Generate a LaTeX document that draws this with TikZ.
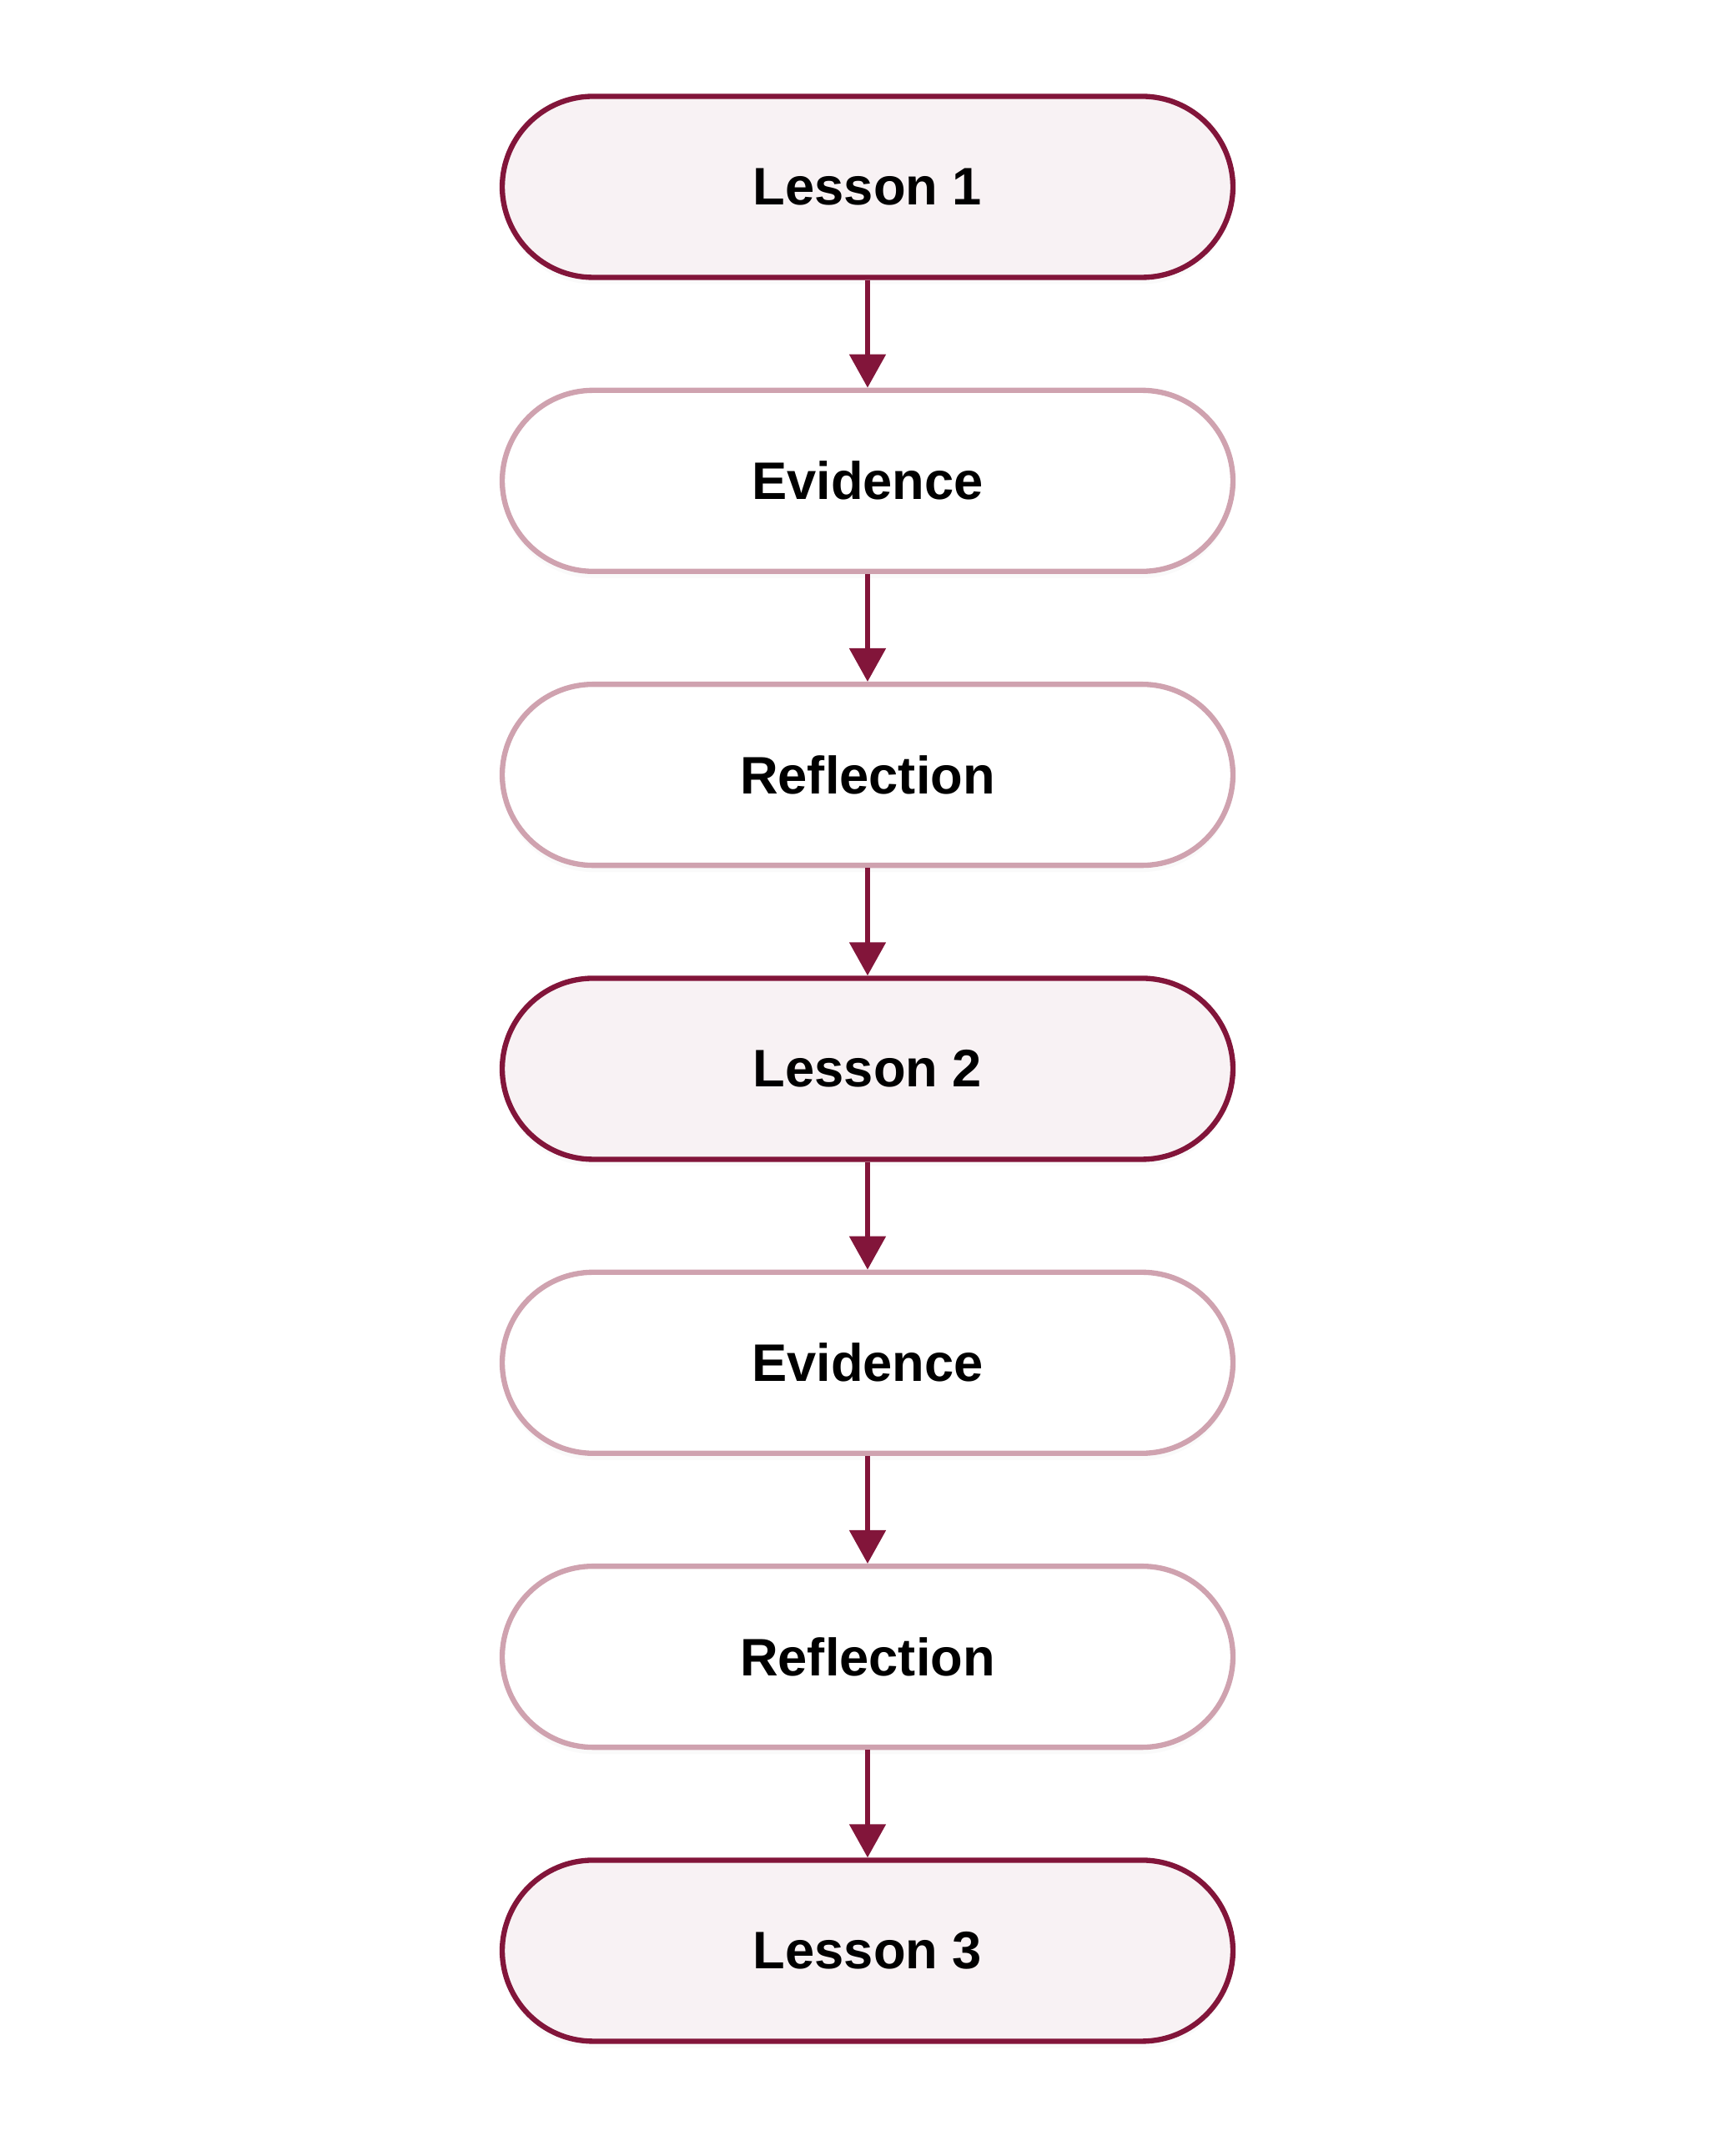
\documentclass[tikz,border=0pt]{standalone}
\usepackage{fontspec}
\setmainfont{Liberation Sans}
\usetikzlibrary{positioning}
\usetikzlibrary{arrows.meta}
\usetikzlibrary{shadows}
\definecolor{lessonred}{HTML}{82153A}
\definecolor{lessonfill}{HTML}{F8F2F4}
\definecolor{steprose}{HTML}{CFA2AF}

\begin{document}
\begin{tikzpicture}[node distance=1.29cm,
    lesson/.style={draw=lessonred, line width=1.8pt, fill=lessonfill, rounded corners=1.09cm,
      minimum width=8.76cm, minimum height=2.17cm, font=\fontsize{18}{22}\selectfont\bfseries,
      drop shadow={shadow xshift=0cm, shadow yshift=-0.8mm, opacity=0.04}},
    stage/.style={lesson, draw=steprose, fill=white},
    flow/.style={-{Triangle[width=4.3mm, length=4mm]}, draw=lessonred, line width=1.5pt}]
    \useasboundingbox (0,0) rectangle (20.8,25.6);
    % Lesson sequence with evidence and reflection steps
    \node[lesson] (lesson1) at (10.4,23.36) {Lesson 1};
    \node[stage, below=of lesson1] (evidence1) {Evidence};
    \node[stage, below=of evidence1] (reflection1) {Reflection};
    \node[lesson, below=of reflection1] (lesson2) {Lesson 2};
    \node[stage, below=of lesson2] (evidence2) {Evidence};
    \node[stage, below=of evidence2] (reflection2) {Reflection};
    \node[lesson, below=of reflection2] (lesson3) {Lesson 3};

    \draw[flow] (lesson1) -- (evidence1);
    \draw[flow] (evidence1) -- (reflection1);
    \draw[flow] (reflection1) -- (lesson2);
    \draw[flow] (lesson2) -- (evidence2);
    \draw[flow] (evidence2) -- (reflection2);
    \draw[flow] (reflection2) -- (lesson3);
\end{tikzpicture}
\end{document}
